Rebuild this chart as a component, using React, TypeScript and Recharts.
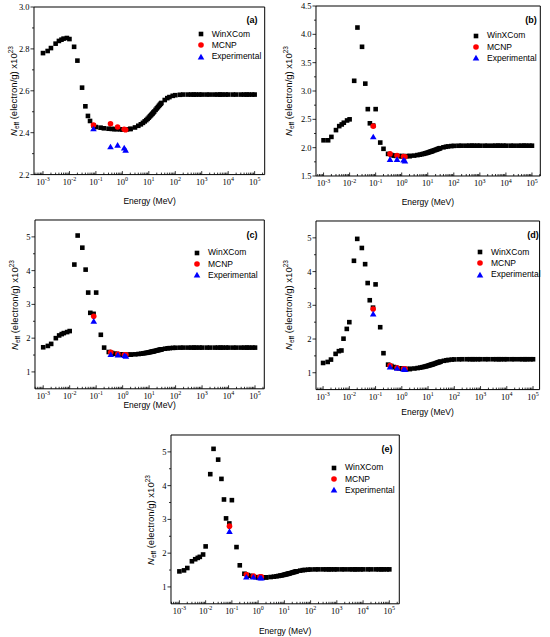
import React from 'react';
import { ScatterChart, Scatter, XAxis, YAxis, ReferenceArea, Legend } from 'recharts';

// photon energies of the WinXCom grid (MeV)
const energies = [
  0.001, 0.0015, 0.002, 0.003, 0.004, 0.005, 0.006, 0.008, 0.01,
  0.015, 0.02, 0.03, 0.04, 0.05, 0.06, 0.08, 0.1,
  0.15, 0.2, 0.3, 0.4, 0.5, 0.6, 0.8,
  1, 1.022, 1.25, 1.5, 2, 2.044,
  3, 4, 5, 6, 7, 8, 9, 10, 11, 12, 13, 14, 15, 16,
  18, 20, 22, 24, 26, 28, 30,
  40, 50, 60, 80, 100, 150,
  200, 300, 400, 500, 600, 800, 1000, 1500, 2000, 3000, 4000,
  5000, 6000, 8000, 10000, 15000, 20000, 30000, 40000, 50000, 60000, 80000, 100000
];

// energies of the MCNP / measured points (MeV)
const sourceEnergies = [0.081, 0.356, 0.662, 1.173, 1.332];

const winA = [
  2.780, 2.790, 2.804, 2.825, 2.838, 2.844, 2.849, 2.852, 2.847,
  2.810, 2.744, 2.615, 2.526, 2.480, 2.456, 2.435, 2.427,
  2.424, 2.421, 2.419, 2.418, 2.417, 2.417, 2.416,
  2.416, 2.416, 2.416, 2.416, 2.418, 2.418,
  2.425, 2.433, 2.440, 2.447, 2.454, 2.460, 2.466, 2.472, 2.478, 2.483, 2.488, 2.492, 2.497, 2.501,
  2.509, 2.516, 2.522, 2.528, 2.533, 2.538, 2.542,
  2.556, 2.565, 2.570, 2.576, 2.579, 2.581,
  2.582, 2.582, 2.582, 2.582, 2.582, 2.582, 2.582, 2.582, 2.582, 2.582, 2.582,
  2.582, 2.582, 2.582, 2.582, 2.582, 2.582, 2.582, 2.582, 2.582, 2.582, 2.582, 2.582
];
const mcnpA = [2.437, 2.443, 2.427, 2.416, 2.414];
const expA = [2.418, 2.332, 2.340, 2.327, 2.316];

const winB = [
  2.13, 2.13, 2.19, 2.31, 2.38, 2.41, 2.44, 2.48, 2.50,
  3.18, 4.12, 3.78, 3.13, 2.68, 2.43, 2.39, 2.68,
  2.09, 1.98, 1.89, 1.87, 1.86, 1.855, 1.852,
  1.85, 1.85, 1.85, 1.85, 1.852, 1.853,
  1.860, 1.869, 1.877, 1.885, 1.892, 1.899, 1.906, 1.912, 1.919, 1.925, 1.930, 1.935, 1.940, 1.945,
  1.954, 1.961, 1.968, 1.975, 1.980, 1.986, 1.991,
  2.006, 2.016, 2.022, 2.028, 2.032, 2.034,
  2.035, 2.035, 2.035, 2.035, 2.035, 2.035, 2.035, 2.035, 2.035, 2.035, 2.035,
  2.035, 2.035, 2.035, 2.035, 2.035, 2.035, 2.035, 2.035, 2.035, 2.035, 2.035, 2.035
];
const mcnpB = [2.38, 1.89, 1.86, 1.845, 1.84];
const expB = [2.19, 1.79, 1.79, 1.78, 1.765];

const winC = [
  1.73, 1.77, 1.83, 2.00, 2.08, 2.12, 2.15, 2.18, 2.21,
  4.18, 5.04, 4.68, 4.03, 3.35, 2.75, 2.72, 3.35,
  2.10, 1.72, 1.59, 1.56, 1.54, 1.53, 1.52,
  1.515, 1.515, 1.512, 1.51, 1.512, 1.513,
  1.521, 1.531, 1.540, 1.549, 1.558, 1.566, 1.573, 1.581, 1.588, 1.595, 1.601, 1.606, 1.612, 1.618,
  1.628, 1.636, 1.644, 1.652, 1.658, 1.664, 1.670,
  1.687, 1.699, 1.705, 1.712, 1.716, 1.719,
  1.72, 1.72, 1.72, 1.72, 1.72, 1.72, 1.72, 1.72, 1.72, 1.72, 1.72,
  1.72, 1.72, 1.72, 1.72, 1.72, 1.72, 1.72, 1.72, 1.72, 1.72, 1.72, 1.72
];
const mcnpC = [2.65, 1.58, 1.53, 1.51, 1.51];
const expC = [2.50, 1.51, 1.50, 1.48, 1.46];

const winD = [
  1.29, 1.32, 1.39, 1.56, 1.64, 1.66, 2.01, 2.30, 2.50,
  4.32, 4.97, 4.70, 4.22, 3.66, 3.15, 2.93, 3.62,
  2.35, 1.58, 1.24, 1.20, 1.17, 1.15, 1.13,
  1.12, 1.12, 1.115, 1.11, 1.112, 1.113,
  1.126, 1.139, 1.152, 1.164, 1.176, 1.187, 1.197, 1.208, 1.218, 1.227, 1.236, 1.243, 1.252, 1.258,
  1.272, 1.284, 1.296, 1.306, 1.314, 1.323, 1.330,
  1.354, 1.370, 1.379, 1.390, 1.395, 1.398,
  1.40, 1.40, 1.40, 1.40, 1.40, 1.40, 1.40, 1.40, 1.40, 1.40, 1.40,
  1.40, 1.40, 1.40, 1.40, 1.40, 1.40, 1.40, 1.40, 1.40, 1.40, 1.40, 1.40
];
const mcnpD = [2.89, 1.21, 1.15, 1.12, 1.12];
const expD = [2.74, 1.17, 1.13, 1.10, 1.09];

const winE = [
  1.46, 1.49, 1.56, 1.76, 1.82, 1.86, 1.89, 1.96, 2.20,
  4.34, 5.09, 4.77, 4.20, 3.59, 3.03, 2.88, 3.57,
  2.18, 1.64, 1.39, 1.35, 1.33, 1.31, 1.29,
  1.285, 1.285, 1.282, 1.28, 1.282, 1.283,
  1.293, 1.304, 1.315, 1.325, 1.335, 1.344, 1.352, 1.361, 1.370, 1.377, 1.384, 1.390, 1.397, 1.403,
  1.414, 1.424, 1.434, 1.442, 1.449, 1.456, 1.462,
  1.482, 1.496, 1.503, 1.511, 1.516, 1.519,
  1.52, 1.52, 1.52, 1.52, 1.52, 1.52, 1.52, 1.52, 1.52, 1.52, 1.52,
  1.52, 1.52, 1.52, 1.52, 1.52, 1.52, 1.52, 1.52, 1.52, 1.52, 1.52, 1.52
];
const mcnpE = [2.80, 1.37, 1.32, 1.30, 1.30];
const expE = [2.64, 1.29, 1.29, 1.27, 1.26];

const yMajorA = [2.2, 2.4, 2.6, 2.8, 3.0];
const yLabelsA = ['2.2', '2.4', '2.6', '2.8', '3.0'];
const yMinorA = [2.3, 2.5, 2.7, 2.9];
const yMajorB = [1.5, 2.0, 2.5, 3.0, 3.5, 4.0, 4.5];
const yLabelsB = ['1.5', '2.0', '2.5', '3.0', '3.5', '4.0', '4.5'];
const yMinorB = [1.75, 2.25, 2.75, 3.25, 3.75, 4.25];
const yMajorInt = [1, 2, 3, 4, 5];
const yLabelsInt = ['1', '2', '3', '4', '5'];
const yMinorInt = [1.5, 2.5, 3.5, 4.5];

const decades = [-3, -2, -1, 0, 1, 2, 3, 4, 5];
const minorSteps = [2, 3, 4, 5, 6, 7, 8, 9];

const SANS = '"Liberation Sans", Arial, sans-serif';
const SERIF = '"Liberation Serif", "Times New Roman", serif';

const SERIES = [
  { key: 'win', name: 'WinXCom', color: '#000000' },
  { key: 'mcnp', name: 'MCNP', color: '#ff0000' },
  { key: 'exp', name: 'Experimental', color: '#0000ff' }
];

const Marker = ({ kind, cx, cy }: { kind: string; cx: number; cy: number }) => {
  if (kind === 'win') return <rect x={cx - 2.3} y={cy - 2.3} width={4.6} height={4.6} fill="#000" />;
  if (kind === 'mcnp') return <circle cx={cx} cy={cy} r={2.8} fill="#ff0000" />;
  return <polygon points={`${cx},${cy - 3.2} ${cx + 3.3},${cy + 2.4} ${cx - 3.3},${cy + 2.4}`} fill="#0000ff" />;
};

function logTicks(lo: number, hi: number) {
  const out: number[] = [];
  for (let k = -4; k <= 5; k++) {
    out.push(Math.pow(10, k));
    minorSteps.forEach(m => out.push(m * Math.pow(10, k)));
  }
  return out.filter(v => v >= lo && v <= hi);
}

const XTick = (props: any) => {
  const { x, y, payload } = props;
  const e = Math.log10(payload.value);
  const major = decades.some(d => Math.abs(e - d) < 1e-6);
  return (
    <g>
      <line x1={x} x2={x} y1={y} y2={y - (major ? 3.5 : 2)} stroke="#000" strokeWidth={0.8} />
      {major && (
        <text x={x} y={y + 10.5} textAnchor="middle" fontFamily={SERIF} fontSize={8.5} fill="#000">
          10<tspan dy={-3.8} fontSize={6}>{Math.round(e)}</tspan>
        </text>
      )}
    </g>
  );
};

const YTick = (props: any) => {
  const { x, y, payload, majors, labels } = props;
  const idx = majors.findIndex((m: number) => Math.abs(m - payload.value) < 1e-9);
  const major = idx >= 0;
  return (
    <g>
      <line x1={x} x2={x - (major ? 3.5 : 2)} y1={y} y2={y} stroke="#000" strokeWidth={0.8} />
      {major && (
        <text x={x - 4.5} y={y + 3} textAnchor="end" fontFamily={SERIF} fontSize={8.5} fill="#000">
          {labels[idx]}
        </text>
      )}
    </g>
  );
};

const panels = [
  {
    tag: '(a)', win: winA, mcnp: mcnpA, exp: expA,
    box: { x0: 34.3, y0: 6.7, x1: 265, y1: 174.3 }, xExp: [-3.34, 5.38],
    yDomain: [2.2, 3.0], yMajor: yMajorA, yLabels: yLabelsA, yMinor: yMinorA,
    yTitleDx: -20, xTitleDy: 27, legend: { x: 200.7, y: 34.3 }, tagAt: { x: 252, y: 20 }
  },
  {
    tag: '(b)', win: winB, mcnp: mcnpB, exp: expB,
    box: { x0: 315.7, y0: 6, x1: 540, y1: 176 }, xExp: [-3.29, 5.32],
    yDomain: [1.5, 4.5], yMajor: yMajorB, yLabels: yLabelsB, yMinor: yMinorB,
    yTitleDx: -27, xTitleDy: 25.7, legend: { x: 476, y: 35.7 }, tagAt: { x: 531, y: 20 }
  },
  {
    tag: '(c)', win: winC, mcnp: mcnpC, exp: expC,
    box: { x0: 35, y0: 220.4, x1: 264.3, y1: 389.2 }, xExp: [-3.31, 5.35],
    yDomain: [0.5, 5.5], yMajor: yMajorInt, yLabels: yLabelsInt, yMinor: yMinorInt,
    yTitleDx: -20, xTitleDy: 16, legend: { x: 197, y: 252.7 }, tagAt: { x: 252, y: 235 }
  },
  {
    tag: '(d)', win: winD, mcnp: mcnpD, exp: expD,
    box: { x0: 315.7, y0: 220.6, x1: 539.3, y1: 389.2 }, xExp: [-3.27, 5.25],
    yDomain: [0.5, 5.5], yMajor: yMajorInt, yLabels: yLabelsInt, yMinor: yMinorInt,
    yTitleDx: -27, xTitleDy: 22.5, legend: { x: 480, y: 252.3 }, tagAt: { x: 533, y: 235 }
  },
  {
    tag: '(e)', win: winE, mcnp: mcnpE, exp: expE,
    box: { x0: 171, y0: 435.4, x1: 399.3, y1: 604.2 }, xExp: [-3.32, 5.38],
    yDomain: [0.5, 5.5], yMajor: yMajorInt, yLabels: yLabelsInt, yMinor: yMinorInt,
    yTitleDx: -20, xTitleDy: 26.5, legend: { x: 334, y: 467.7 }, tagAt: { x: 387, y: 449 }
  }
];

const PAD_L = 40, PAD_R = 10, PAD_T = 10, PAD_B = 40;

const Panel = ({ p }: { p: typeof panels[number] }) => {
  const { x0, y0, x1, y1 } = p.box;
  const left = x0 - PAD_L;
  const top = y0 - PAD_T;
  const width = x1 - x0 + PAD_L + PAD_R;
  const height = y1 - y0 + PAD_T + PAD_B;
  const xLo = Math.pow(10, p.xExp[0]);
  const xHi = Math.pow(10, p.xExp[1]);

  const winData = energies.map((e, i) => ({ x: e, y: p.win[i] }));
  const mcnpData = sourceEnergies.map((e, i) => ({ x: e, y: p.mcnp[i] }));
  const expData = sourceEnergies.map((e, i) => ({ x: e, y: p.exp[i] }));
  const yTicks = [...p.yMajor, ...p.yMinor].sort((a, b) => a - b);

  const legendContent = () => (
    <div style={{ fontFamily: SANS, fontSize: 8.5, color: '#000', lineHeight: 1 }}>
      {SERIES.map(s => (
        <div key={s.key} style={{ display: 'flex', alignItems: 'center', height: 11.2 }}>
          <svg width={10} height={10} style={{ marginRight: 6, overflow: 'visible' }}>
            <Marker kind={s.key} cx={5} cy={5} />
          </svg>
          <span>{s.name}</span>
        </div>
      ))}
    </div>
  );

  return (
    <>
      <div style={{ position: 'absolute', left, top, width, height }}>
        <ScatterChart width={width} height={height} margin={{ top: PAD_T, right: PAD_R, left: 10, bottom: 10 }}>
          <XAxis
            dataKey="x"
            type="number"
            scale="log"
            domain={[xLo, xHi]}
            allowDataOverflow
            ticks={logTicks(xLo, xHi)}
            interval={0}
            tickSize={0}
            tickMargin={0}
            tickLine={false}
            axisLine={false}
            height={30}
            tick={(t: any) => <XTick {...t} />}
          />
          <YAxis
            dataKey="y"
            type="number"
            domain={p.yDomain}
            allowDataOverflow
            ticks={yTicks}
            interval={0}
            tickSize={0}
            tickMargin={0}
            tickLine={false}
            axisLine={false}
            width={30}
            tick={(t: any) => <YTick {...t} majors={p.yMajor} labels={p.yLabels} />}
          />
          <ReferenceArea x1={xLo} x2={xHi} y1={p.yDomain[0]} y2={p.yDomain[1]} fill="none" stroke="#000" strokeWidth={1} />
          <Legend
            layout="vertical"
            align="center"
            verticalAlign="middle"
            content={legendContent}
            wrapperStyle={{ left: p.legend.x - left - 5, top: p.legend.y - top - 5.6, width: 'auto', height: 'auto' }}
          />
          <Scatter name="WinXCom" data={winData} fill="#000000" isAnimationActive={false}
            shape={(s: any) => <Marker kind="win" cx={s.cx} cy={s.cy} />} />
          <Scatter name="MCNP" data={mcnpData} fill="#ff0000" isAnimationActive={false}
            shape={(s: any) => <Marker kind="mcnp" cx={s.cx} cy={s.cy} />} />
          <Scatter name="Experimental" data={expData} fill="#0000ff" isAnimationActive={false}
            shape={(s: any) => <Marker kind="exp" cx={s.cx} cy={s.cy} />} />
        </ScatterChart>
      </div>
      <div style={{
        position: 'absolute', left: (x0 + x1) / 2, top: y1 + p.xTitleDy,
        transform: 'translate(-50%, -50%)', fontFamily: SANS, fontSize: 8.5, whiteSpace: 'nowrap'
      }}>
        Energy (MeV)
      </div>
      <div style={{
        position: 'absolute', left: x0 + p.yTitleDx, top: (y0 + y1) / 2,
        transform: 'translate(-50%, -50%) rotate(-90deg)', fontFamily: SANS, fontSize: 9.5,
        whiteSpace: 'nowrap', lineHeight: 1
      }}>
        <i>N</i><sub style={{ fontSize: 6.5, verticalAlign: -2 }}>eff</sub> (electron/g) x10<sup style={{ fontSize: 6.5, verticalAlign: 4 }}>23</sup>
      </div>
      <div style={{
        position: 'absolute', left: p.tagAt.x, top: p.tagAt.y,
        transform: 'translate(-50%, -50%)', fontFamily: SANS, fontSize: 9, fontWeight: 'bold', lineHeight: 1
      }}>
        {p.tag}
      </div>
    </>
  );
};

export default function App() {
  return (
    <div style={{ position: 'absolute', left: 0, top: 0, width: 550, height: 637, background: '#fff', overflow: 'hidden' }}>
      {panels.map(p => <Panel key={p.tag} p={p} />)}
    </div>
  );
}
